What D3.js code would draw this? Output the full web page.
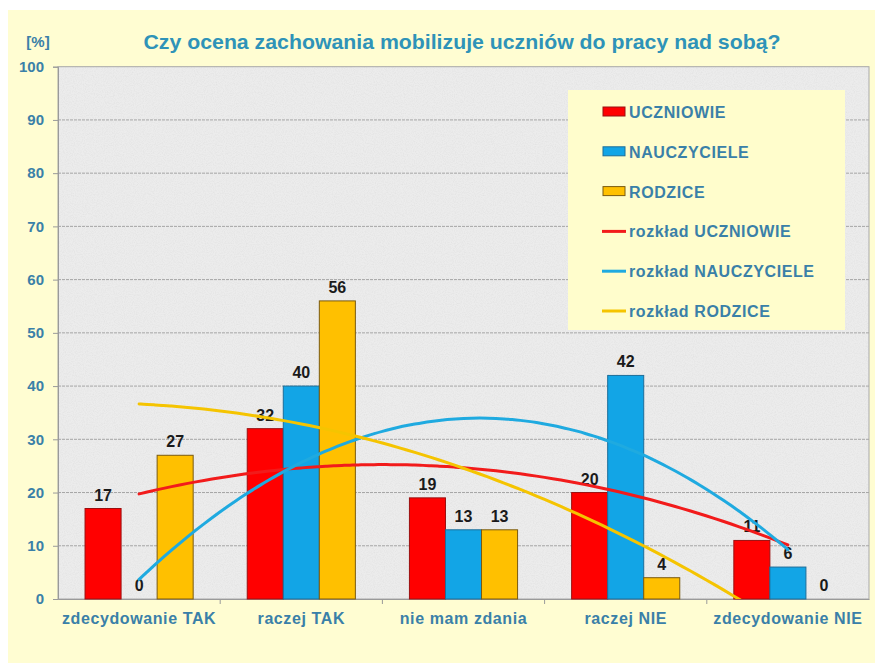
<!DOCTYPE html>
<html><head><meta charset="utf-8">
<script src="https://cdn.jsdelivr.net/npm/d3@7"></script>
<style>body{margin:0;background:#fff}svg{display:block}</style>
</head><body>
<svg id="c" width="875" height="663"></svg>
<script>
const categories = ["zdecydowanie TAK","raczej TAK","nie mam zdania","raczej NIE","zdecydowanie NIE"];
const seriesNames = ["UCZNIOWIE","NAUCZYCIELE","RODZICE"];
const uczniowie = [17,32,19,20,11];
const nauczyciele = [0,40,13,42,6];
const rodzice = [27,56,13,4,0];
const yTicks = [0,10,20,30,40,50,60,70,80,90,100];
const title = "Czy ocena zachowania mobilizuje uczniów do pracy nad sobą?";
const trendPrefix = "rozkład ";

const seriesValues = [uczniowie, nauczyciele, rodzice];
const fills = ["#FF0000","#12A5E6","#FFC000"];
const strokes = ["#9A1010","#1C6E9A","#7A5A10"];
const lineColors = ["#F21B1B","#1FAAE0","#F5C400"];
const labelColor = "#3A80A8";
const FONT = "Liberation Sans, Arial, sans-serif";

const svg = d3.select("#c");
svg.append("rect").attr("x",8).attr("y",10).attr("width",867).attr("height",653).attr("fill","#FFFDD2");

const L=58,R=869,T=66.7,B=599;
const x = d3.scaleBand().domain(categories).range([L,R]).paddingInner(1/3).paddingOuter(1/6);
const xs = d3.scaleBand().domain(seriesNames).range([0,x.bandwidth()]);
const y = d3.scaleLinear().domain([0,100]).range([B,T]);

// plot area with texture
const defs = svg.append("defs");
const f = defs.append("filter").attr("id","noise").attr("x",0).attr("y",0).attr("width","100%").attr("height","100%");
f.append("feTurbulence").attr("type","fractalNoise").attr("baseFrequency",0.9).attr("numOctaves",2).attr("seed",3).attr("result","n");
f.append("feColorMatrix").attr("type","matrix").attr("values","0 0 0 0 0.55  0 0 0 0 0.55  0 0 0 0 0.55  0 0 0 0.9 -0.35");
defs.append("clipPath").attr("id","clip").append("rect").attr("x",L).attr("y",T).attr("width",R-L).attr("height",B-T);

svg.append("rect").attr("x",L).attr("y",T).attr("width",R-L).attr("height",B-T).attr("fill","#ECECEC");
svg.append("rect").attr("x",L).attr("y",T).attr("width",R-L).attr("height",B-T).attr("filter","url(#noise)").attr("opacity",0.45);

// gridlines
svg.append("g").selectAll("line").data(yTicks.filter(d=>d>0&&d<100)).join("line")
  .attr("x1",L).attr("x2",R).attr("y1",d=>y(d)).attr("y2",d=>y(d))
  .attr("stroke","#A5A5A5").attr("stroke-width",1).attr("stroke-dasharray","3,1");
svg.append("rect").attr("x",L).attr("y",T).attr("width",R-L).attr("height",B-T).attr("fill","none").attr("stroke","#A8A8A8");

// y axis
const ya = svg.append("g").attr("transform",`translate(${L},0)`)
  .call(d3.axisLeft(y).tickValues(yTicks).tickSize(5).tickPadding(9));
ya.select(".domain").attr("stroke","#9A9A9A");
ya.selectAll(".tick line").attr("stroke","#9A9A9A");
ya.selectAll("text").attr("fill",labelColor).attr("font-family",FONT).attr("font-weight","bold").attr("font-size",15);

// x axis
const xa = svg.append("g").attr("transform",`translate(0,${B})`)
  .call(d3.axisBottom(x).tickSize(0).tickPadding(14));
xa.select(".domain").attr("stroke","#9A9A9A");
xa.selectAll("text").attr("fill",labelColor).attr("font-family",FONT).attr("font-weight","bold").attr("font-size",16).attr("letter-spacing",0.6);
// boundary ticks
svg.append("g").selectAll("line").data(categories.slice(1)).join("line")
  .attr("x1",d=>x(d)-x.step()*x.paddingInner()/2).attr("x2",d=>x(d)-x.step()*x.paddingInner()/2)
  .attr("y1",B).attr("y2",B+5).attr("stroke","#9A9A9A");

// bars
const groups = svg.append("g").selectAll("g").data(seriesNames).join("g");
groups.each(function(s,si){
  const g = d3.select(this);
  const data = seriesValues[si].map((v,i)=>({c:categories[i],v}));
  g.selectAll("rect").data(data.filter(d=>d.v>0)).join("rect")
    .attr("x",d=>x(d.c)+xs(s)).attr("width",xs.bandwidth())
    .attr("y",d=>y(d.v)).attr("height",d=>B-y(d.v))
    .attr("fill",fills[si]).attr("stroke",strokes[si]).attr("stroke-width",1);
  g.selectAll("text").data(data).join("text")
    .attr("x",d=>x(d.c)+xs(s)+xs.bandwidth()/2).attr("y",d=>y(d.v)-8)
    .attr("text-anchor","middle").attr("font-family",FONT)
    .attr("font-weight","bold").attr("font-size",16).attr("fill","#1A1A1A").text(d=>d.v);
});

// quadratic trend lines (least squares, like Excel polynomial trendline)
function quadFit(vals){
  let S=[0,0,0,0,0], Sy=[0,0,0];
  vals.forEach((v,i)=>{const t=i+1; for(let k=0;k<5;k++)S[k]+=Math.pow(t,k); for(let k=0;k<3;k++)Sy[k]+=v*Math.pow(t,k);});
  const M=[[S[0],S[1],S[2],Sy[0]],[S[1],S[2],S[3],Sy[1]],[S[2],S[3],S[4],Sy[2]]];
  for(let i=0;i<3;i++){for(let j=i+1;j<3;j++){const r=M[j][i]/M[i][i];for(let k=i;k<4;k++)M[j][k]-=r*M[i][k];}}
  const c=[0,0,0];
  for(let i=2;i>=0;i--){let s=M[i][3];for(let k=i+1;k<3;k++)s-=M[i][k]*c[k];c[i]=s/M[i][i];}
  return t=>c[0]+c[1]*t+c[2]*t*t;
}
const xt = d3.scaleLinear().domain([1,categories.length])
  .range([x(categories[0])+x.bandwidth()/2, x(categories[categories.length-1])+x.bandwidth()/2]);
const tSamples = d3.range(1,categories.length+0.001,0.05);
const lineGen = d3.line().x(d=>xt(d[0])).y(d=>y(d[1])).curve(d3.curveBasis);
const lg = svg.append("g").attr("clip-path","url(#clip)");
seriesValues.forEach((vals,si)=>{
  const fn = quadFit(vals);
  lg.append("path").datum(tSamples.map(t=>[t,fn(t)])).attr("d",lineGen)
    .attr("fill","none").attr("stroke",lineColors[si]).attr("stroke-width",3).attr("stroke-linecap","round");
});

// title
svg.append("text").attr("x",462).attr("y",49).attr("text-anchor","middle")
  .attr("font-family",FONT).attr("font-weight","bold").attr("font-size",21)
  .attr("textLength",637).attr("lengthAdjust","spacingAndGlyphs")
  .attr("fill","#2E93B8").text(title);
svg.append("text").attr("x",38).attr("y",47).attr("text-anchor","middle")
  .attr("font-family",FONT).attr("font-weight","bold").attr("font-size",15)
  .attr("fill",labelColor).text("[%]");

// legend
const leg = svg.append("g");
leg.append("rect").attr("x",568).attr("y",90).attr("width",277).attr("height",240).attr("fill","#FFFDCC");
const legItems = seriesNames.map((s,i)=>({label:s,type:"bar",i})).concat(seriesNames.map((s,i)=>({label:trendPrefix+s,type:"line",i})));
const ly = d3.scalePoint().domain(d3.range(legItems.length)).range([112,311]);
legItems.forEach((d,k)=>{
  const yy = ly(k);
  if(d.type==="bar"){
    leg.append("rect").attr("x",603).attr("y",yy-5).attr("width",22).attr("height",9)
      .attr("fill",fills[d.i]).attr("stroke",strokes[d.i]).attr("stroke-width",1);
  } else {
    leg.append("line").attr("x1",602).attr("x2",626).attr("y1",yy).attr("y2",yy)
      .attr("stroke",lineColors[d.i]).attr("stroke-width",3);
  }
  leg.append("text").attr("x",629).attr("y",yy+6)
    .attr("font-family",FONT).attr("font-weight","bold").attr("font-size",16).attr("letter-spacing",0.6)
    .attr("fill",labelColor).text(d.label);
});
</script>
</body></html>
